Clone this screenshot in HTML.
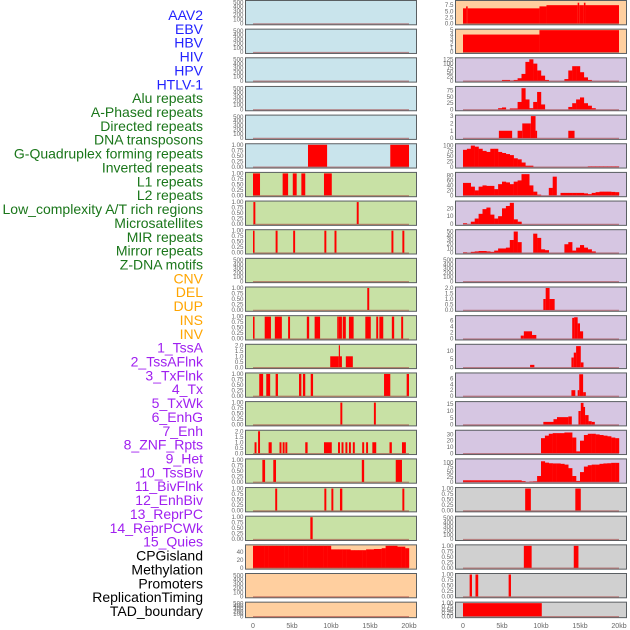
<!DOCTYPE html>
<html><head><meta charset="utf-8"><style>
html,body{margin:0;padding:0;background:#fff;}
svg{display:block;font-family:"Liberation Sans",sans-serif;}
</style></head><body>
<svg id="chart" width="630" height="630" viewBox="0 0 630 630" xmlns="http://www.w3.org/2000/svg">
<g id="labels"></g>
<g id="panels"></g>
<g id="xaxes"></g>
</svg>
<script>
const trackLabels = ["AAV2","EBV","HBV","HIV","HPV","HTLV-1","Alu repeats","A-Phased repeats","Directed repeats","DNA transposons","G-Quadruplex forming repeats","Inverted repeats","L1 repeats","L2 repeats","Low_complexity A/T rich regions","Microsatellites","MIR repeats","Mirror repeats","Z-DNA motifs","CNV","DEL","DUP","INS","INV","1_TssA","2_TssAFlnk","3_TxFlnk","4_Tx","5_TxWk","6_EnhG","7_Enh","8_ZNF_Rpts","9_Het","10_TssBiv","11_BivFlnk","12_EnhBiv","13_ReprPC","14_ReprPCWk","15_Quies","CPGisland","Methylation","Promoters","ReplicationTiming","TAD_boundary"];
const labelGroups = [0,0,0,0,0,0,1,1,1,1,1,1,1,1,1,1,1,1,1,2,2,2,2,2,3,3,3,3,3,3,3,3,3,3,3,3,3,3,3,4,4,4,4,4];
const groupColors = ["#2222ff","#1a761a","#ffa500","#a020f0","#000000"];
const xTickLabels = ["0","5kb","10kb","15kb","20kb"];
const xTickValues = [0,5,10,15,20];

// tick label sets
const T500 = ["0","100","200","300","400","500"];
const T1 = ["0.00","0.25","0.50","0.75","1.00"];
const T2 = ["0.0","0.5","1.0","1.5","2.0"];

// left column data (kb segments: start, end, value)
const segs_L5 = [[7.05,9.5,1],[17.6,20,1]];
const segs_L6 = [[0,0.9,1],[3.8,4.5,1],[5.1,5.6,1],[6.2,6.7,1],[9.1,10.1,1]];
const segs_L7 = [[0.05,0.3,1],[13.3,13.55,1]];
const segs_L8 = [[0,0.2,1],[2.9,3.15,1],[5.15,5.4,1],[9.15,9.4,1],[10.45,10.7,1],[17.75,18.0,1],[19.15,19.4,1]];
const segs_L10 = [[14.65,14.9,1]];
const segs_L11 = [[0,0.2,1],[1.5,2.3,1],[2.8,3.7,1],[4.5,4.75,1],[6.9,7.2,1],[7.9,8.6,1],[10.8,11.0,1],[11.0,11.4,1],[11.5,11.9,1],[12.3,12.9,1],[14.4,15.1,1],[15.8,16.05,1],[16.2,16.7,1],[17.8,18.1,1],[19.0,19.25,1]];
const segs_L12 = [[9.9,11.0,1],[11.0,11.15,2],[11.15,11.4,1],[11.9,12.8,1]];
const segs_L13 = [[0.8,1.3,1],[1.7,2.2,1],[2.9,3.2,1],[5.9,6.2,1],[6.4,6.7,1],[7.4,7.7,1],[16.8,17.6,1],[19.7,20,1]];
const segs_L14 = [[11.2,11.45,1],[15.5,15.75,1]];
const segs_L15 = [[0.2,0.45,1],[0.65,0.9,2],[2.0,2.4,1],[3.4,3.65,1],[3.8,4.05,1],[4.15,4.4,1],[6.7,7.0,1],[9.1,10.1,1],[10.9,11.15,1],[11.35,11.6,1],[11.85,12.1,1],[12.3,12.55,1],[12.8,13.05,1],[14.0,14.25,1],[14.5,14.75,1],[15.3,15.8,1],[17.5,17.8,1],[19.1,19.6,1]];
const segs_L16 = [[1.2,1.55,1],[2.6,2.95,1],[13.95,14.25,1],[18.3,19.1,1]];
const segs_L17 = [[2.85,3.1,1],[9.15,9.4,1],[10.05,10.3,1],[11.15,11.45,1],[19.15,19.4,1]];
const segs_L18 = [[7.35,7.65,1]];
const bins_L19 = [56,56,56,56,56,56,56,56,56,56,56,56,56,56,56,56,56,56,56,56,47,47,47,47,47,45,45,45,45,47,47,48,48,50,56,56,56,54,54,50];

// right column data
const segs_R0 = [[0,0.4,6.2],[0.4,0.6,7],[0.6,9.8,6.2],[9.8,10.7,7],[10.7,14.7,7.5],[14.7,14.9,8.5],[14.9,15.5,7.5],[15.5,15.7,8.5],[15.7,20,7.5]];
const segs_R1 = [[0,9.8,4],[9.8,20,5]];
const bins_R2 = [0,0,0,0,0,0,0,0,0,0,5,5,2,5,15,40,110,125,100,60,30,5,0,0,0,0,10,60,85,85,50,20,5,0,0,0,0,0,0,0];
const bins_R3 = [0,0,0,0,0,0,0,0,0,5,8,0,4,4,30,85,40,5,30,70,20,0,0,0,0,0,0,10,25,40,48,25,15,5,0,0,0,0,0,0];
const segs_R4 = [[4.6,6.3,1],[7.0,7.6,1],[7.6,8.7,2],[8.7,9.3,3],[9.3,9.5,1],[13.5,14.3,1]];
const bins_R5 = [80,85,100,95,85,75,70,85,85,70,65,60,55,40,35,20,5,5,0,0,0,0,0,0,0,0,0,0,0,0,0,0,2,2,2,2,2,2,2,2];
const bins_R6 = [50,50,35,20,35,40,38,38,25,45,55,52,45,55,60,85,85,40,15,3,0,0,30,75,0,10,10,10,10,10,10,8,5,10,13,15,15,15,14,13];
const bins_R7 = [1,0,3,7,13,19,21,12,7,10,20,23,27,6,3,0,0,0,0,0,0,0,0,0,0,0,0,0,0,0,0,0,0,0,0,0,0,0,0,0];
const bins_R8 = [1,0,2,3,4,4,3,2,5,10,10,12,30,50,25,0,0,0,45,35,8,6,0,0,0,0,20,25,5,12,18,12,8,3,0,0,0,0,0,0];
const segs_R10 = [[10.3,10.6,1],[10.6,11.1,2],[11.1,11.75,1]];
const segs_R11 = [[7.4,7.8,1],[7.8,8.85,2.4],[8.85,9.4,1.2],[14.0,14.25,6.8],[14.25,14.7,7],[14.7,15.0,5],[15.0,15.4,2.4]];
const segs_R12 = [[8.6,9.15,1.5],[13.9,14.2,6],[14.2,14.5,9],[14.5,15.1,13],[15.1,15.45,3]];
const segs_R13 = [[13.9,14.4,2],[14.7,14.9,2],[14.9,15.4,7.5],[15.4,15.75,1.3]];
const segs_R14 = [[10.3,11.6,2],[11.6,12.05,4],[12.05,13.5,5.5],[13.5,13.95,6],[14.8,15.1,10],[15.1,15.45,16],[15.45,15.65,13],[15.65,16.1,7],[16.1,16.5,2.5],[16.5,16.9,2]];
const bins_R15 = [0,0,0,0,0,0,0,0,0,0,0,0,0,0,0,0,0,0,0,0,24,28,31,32,32,32,33,33,25,3,20,29,31,31,30,29,28,27,25,24];
const bins_R16 = [8,8,8,8,8,8,8,8,8,8,8,8,8,8,8,4,0,2,3,30,105,98,95,94,94,92,88,70,30,5,50,78,85,88,88,92,94,95,97,97];
const segs_R17 = [[7.97,8.7,1],[14.4,15.1,1]];
const segs_R19 = [[7.8,8.8,1],[14.2,14.8,1]];
const segs_R20 = [[0.85,1.15,1],[1.6,1.95,1],[5.85,6.15,1]];
const segs_R21 = [[0,10.1,1]];

const BLUE="#c9e4ec", GREEN="#c8e1a5", ORANGE="#ffcf9f", PURPLE="#d6c6e2", GRAY="#d0d0d0";
const leftTracks = [
 {bg:BLUE,ymax:520,ticks:T500},{bg:BLUE,ymax:520,ticks:T500},{bg:BLUE,ymax:520,ticks:T500},{bg:BLUE,ymax:520,ticks:T500},{bg:BLUE,ymax:520,ticks:T500},
 {bg:BLUE,ymax:1,ticks:T1,segs:segs_L5},
 {bg:GREEN,ymax:1,ticks:T1,segs:segs_L6},
 {bg:GREEN,ymax:1,ticks:T1,segs:segs_L7},
 {bg:GREEN,ymax:1,ticks:T1,segs:segs_L8},
 {bg:GREEN,ymax:520,ticks:T500},
 {bg:GREEN,ymax:1,ticks:T1,segs:segs_L10},
 {bg:GREEN,ymax:1,ticks:T1,segs:segs_L11},
 {bg:GREEN,ymax:2,ticks:T2,segs:segs_L12},
 {bg:GREEN,ymax:1,ticks:T1,segs:segs_L13},
 {bg:GREEN,ymax:1,ticks:T1,segs:segs_L14},
 {bg:GREEN,ymax:2,ticks:T2,segs:segs_L15},
 {bg:GREEN,ymax:1,ticks:T1,segs:segs_L16},
 {bg:GREEN,ymax:1,ticks:T1,segs:segs_L17},
 {bg:GREEN,ymax:1,ticks:T1,segs:segs_L18},
 {bg:ORANGE,ymax:56,ticks:["0","20","40"],tickVals:[0,20,40],bins:bins_L19},
 {bg:ORANGE,ymax:520,ticks:T500},
 {bg:ORANGE,ymax:520,ticks:T500}
];
const rightTracks = [
 {bg:ORANGE,ymax:9,ticks:["0.0","2.5","5.0","7.5"],tickVals:[0,2.5,5,7.5],segs:segs_R0},
 {bg:ORANGE,ymax:5,ticks:["0","1","2","3","4","5"],segs:segs_R1},
 {bg:PURPLE,ymax:128,ticks:["0","25","50","75","100","125"],bins:bins_R2},
 {bg:PURPLE,ymax:88,ticks:["0","25","50","75"],tickVals:[0,25,50,75],bins:bins_R3},
 {bg:PURPLE,ymax:3,ticks:["0","1","2","3"],segs:segs_R4},
 {bg:PURPLE,ymax:104,ticks:["0","25","50","75","100"],bins:bins_R5},
 {bg:PURPLE,ymax:88,ticks:["0","20","40","60","80"],bins:bins_R6},
 {bg:PURPLE,ymax:28,ticks:["0","10","20"],tickVals:[0,10,20],bins:bins_R7},
 {bg:PURPLE,ymax:52,ticks:["0","10","20","30","40","50"],bins:bins_R8},
 {bg:PURPLE,ymax:520,ticks:T500},
 {bg:PURPLE,ymax:2,ticks:T2,segs:segs_R10},
 {bg:PURPLE,ymax:7.2,ticks:["0","2","4","6"],tickVals:[0,2,4,6],segs:segs_R11},
 {bg:PURPLE,ymax:13.5,ticks:["0","5","10"],tickVals:[0,5,10],segs:segs_R12},
 {bg:PURPLE,ymax:7.6,ticks:["0","2","4","6"],tickVals:[0,2,4,6],segs:segs_R13},
 {bg:PURPLE,ymax:16.2,ticks:["0","5","10","15"],tickVals:[0,5,10,15],segs:segs_R14},
 {bg:PURPLE,ymax:35,ticks:["0","10","20","30"],tickVals:[0,10,20,30],bins:bins_R15},
 {bg:PURPLE,ymax:112,ticks:["0","25","50","75","100"],tickVals:[0,25,50,75,100],bins:bins_R16},
 {bg:GRAY,ymax:1,ticks:T1,segs:segs_R17},
 {bg:GRAY,ymax:520,ticks:T500},
 {bg:GRAY,ymax:1,ticks:T1,segs:segs_R19},
 {bg:GRAY,ymax:1,ticks:T1,segs:segs_R20},
 {bg:GRAY,ymax:1,ticks:T1,segs:segs_R21}
];

const NS="http://www.w3.org/2000/svg";
function mk(tag, attrs, parent){const e=document.createElementNS(NS,tag);for(const k in attrs)e.setAttribute(k,attrs[k]);parent.appendChild(e);return e;}

// labels
const lg=document.getElementById('labels');
trackLabels.forEach((t,i)=>{
  const e=mk('text',{x:203,y:20+i*13.86,'text-anchor':'end','font-size':'14',fill:groupColors[labelGroups[i]]},lg);
  
  
  e.textContent=t;
});

const pg=document.getElementById('panels');
function rowGeom(r){const top=0.5+r*28.65;const h=(r===21)?15.5:24.3;return {top,h};}
function drawCol(tracks, boxX, x0, colName){
  const xs=kb=>x0+kb*7.8;
  tracks.forEach((tr,r)=>{
    const {top,h}=rowGeom(r);
    const g=mk('g',{},pg);
    
    
    mk('rect',{x:boxX,y:top,width:171,height:h,fill:tr.bg,stroke:'#5a5f62','stroke-width':1},g);
    const bottom=top+h-1.3, ytop=top+1;
    const ys=v=>bottom-Math.min(v,tr.ymax)/tr.ymax*(bottom-ytop);
    // ticks
    const tv=tr.tickVals||tr.ticks.map(Number);
    tr.ticks.forEach((lab,i)=>{
      const t=mk('text',{x:boxX-2,y:ys(tv[i])+2,'text-anchor':'end','font-size':'6.2',fill:'#666'},g);
      
      
      t.textContent=lab;
    });
    if(tr.segs){tr.segs.forEach(s=>{
      const b=mk('rect',{x:xs(s[0]),y:ys(s[2]),width:Math.max(0.8,xs(s[1])-xs(s[0])),height:bottom-ys(s[2]),fill:'#ff0000'},g);
      
      
    });}
    if(tr.bins){tr.bins.forEach((v,i)=>{
      if(v<=0)return;
      const b=mk('rect',{x:xs(i*0.5),y:ys(v),width:xs(0.5)-xs(0)+0.2,height:bottom-ys(v),fill:'#ff0000'},g);
      
      
    });}
    const ln=mk('line',{x1:xs(0),x2:xs(20),y1:bottom+0.3,y2:bottom+0.3,stroke:'rgba(160,60,60,0.55)','stroke-width':1.2},g);
    
    
  });
  const xg=document.getElementById('xaxes');
  xTickValues.forEach((v,i)=>{
    const t=mk('text',{x:xs(v),y:628,'text-anchor':'middle','font-size':'7',fill:'#666'},xg);
    
    
    t.textContent=xTickLabels[i];
  });
}
drawCol(leftTracks,245.5,253,'left');
drawCol(rightTracks,455.5,463,'right');
</script>
</body></html>
